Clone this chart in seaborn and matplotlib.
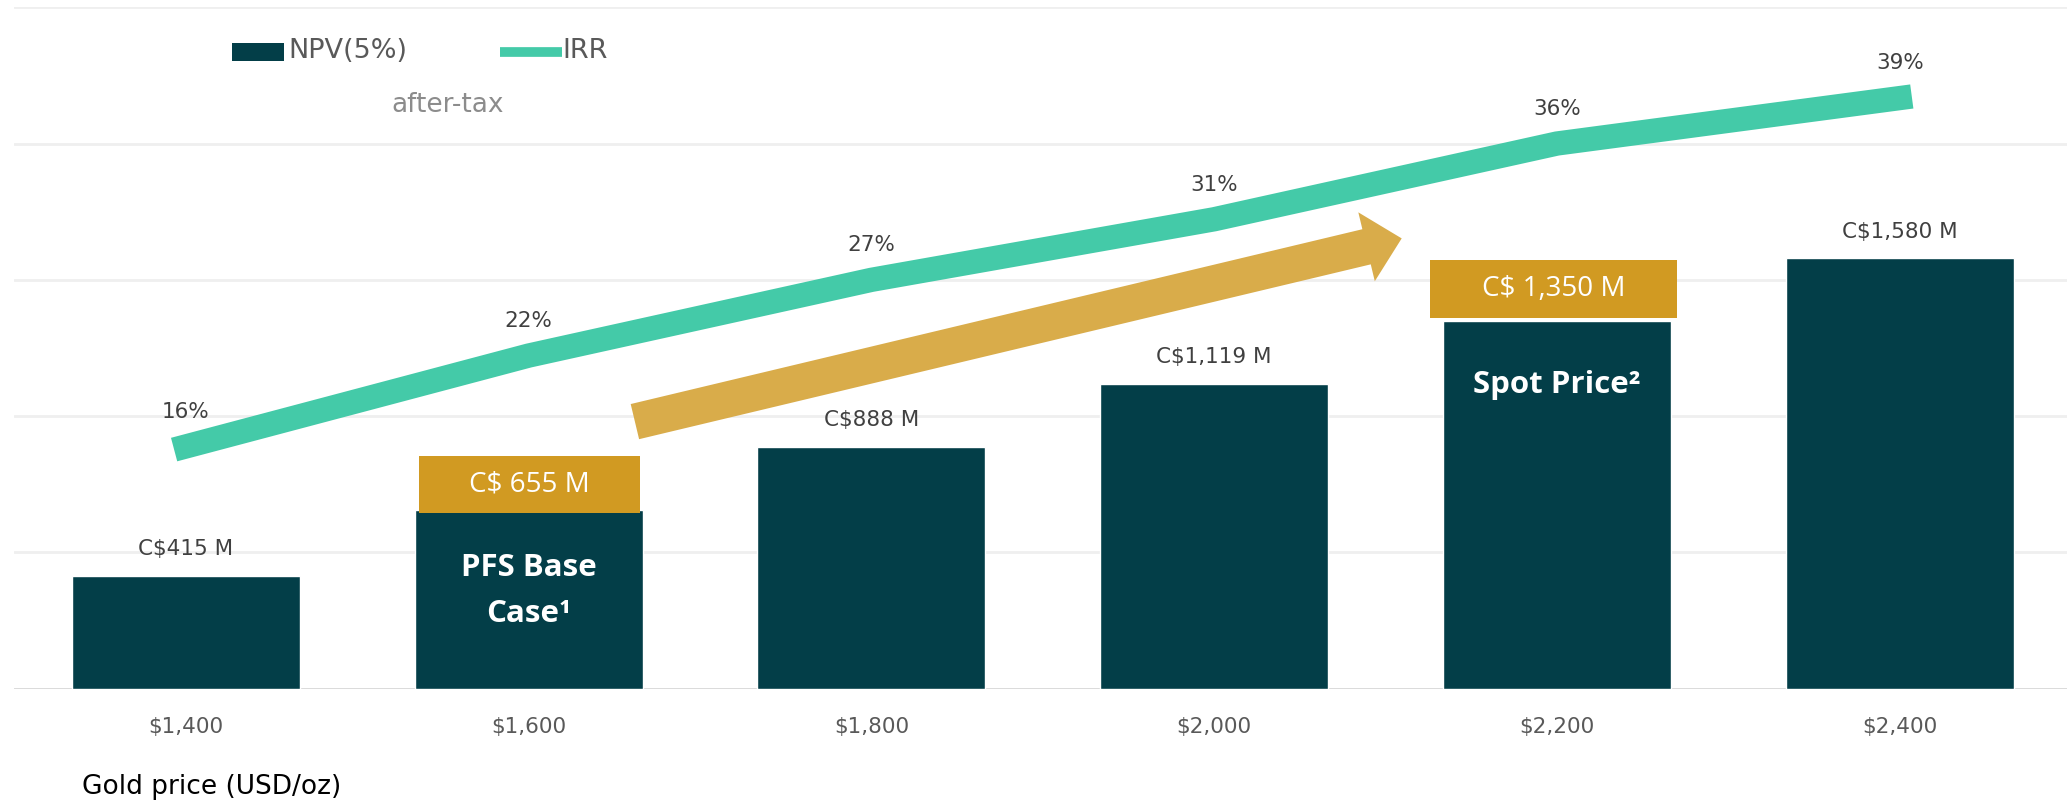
import matplotlib
matplotlib.use("Agg")
import matplotlib.pyplot as plt
import seaborn as sns
import numpy as np
import pandas as pd
from matplotlib.patches import FancyArrowPatch, Rectangle
from matplotlib.lines import Line2D

# ---- data ----
gold_prices = ["$1,400", "$1,600", "$1,800", "$2,000", "$2,200", "$2,400"]
npv_musd = [415, 655, 888, 1119, 1350, 1580]
irr_pct = [16, 22, 27, 31, 36, 39]
npv_labels = ["C$415 M", "", "C$888 M", "C$1,119 M", "", "C$1,580 M"]
irr_labels = ["16%", "22%", "27%", "31%", "36%", "39%"]
highlight_idx = [1, 4]
highlight_box_text = ["C$ 655 M", "C$ 1,350 M"]
highlight_bar_text = ["PFS Base\nCase\u00b9", "Spot Price\u00b2"]

BAR_C = "#033E48"
IRR_C = "#44CAA8"
BOX_C = "#D19A22"
ARROW_C = "#D9AC4A"
LABEL_C = "#404040"
TICK_C = "#595959"

sns.set_theme(style="white")
plt.rcParams["font.family"] = ["DejaVu Sans"]

df = pd.DataFrame({"price": gold_prices, "npv": npv_musd, "irr": irr_pct})

fig = plt.figure(figsize=(20.67, 8), dpi=100)
ax = fig.add_axes([0.007, 0.139, 0.995, 0.852])

sns.barplot(data=df, x="price", y="npv", color=BAR_C, saturation=1,
            width=0.665, ax=ax, zorder=2)
ax.set_xlim(-0.5, 5.5)
ax.set_ylim(0, 2500)
ax.set_yticks(np.arange(0, 2501, 500))
ax.set_yticklabels([])
ax.tick_params(axis="y", length=0)
ax.tick_params(axis="x", length=0, pad=20, labelsize=15.5, labelcolor=TICK_C)
ax.yaxis.grid(True, color="#EFEFEF", linewidth=2, zorder=0)
ax.set_axisbelow(True)
for s in ax.spines.values():
    s.set_visible(False)
ax.axhline(0, color="#D9D9D9", linewidth=2, zorder=1)
ax.set_xlabel("")
ax.set_ylabel("")

# bar value labels
for i, (v, lab) in enumerate(zip(npv_musd, npv_labels)):
    if lab:
        ax.annotate(lab, (i, v), xytext=(0, 19), textcoords="offset points",
                    ha="center", va="center", fontsize=15.5, color=LABEL_C)

# highlight boxes
box_spec = {1: dict(left=0.32, right=0.325, gap=-12, text_off=-58),
            4: dict(left=0.37, right=0.35, gap=10, text_off=-46)}
for i, bt, it in zip(highlight_idx, highlight_box_text, highlight_bar_text):
    sp = box_spec[i]
    v = npv_musd[i]
    bottom = v + sp["gap"]
    h = 212
    ax.add_patch(Rectangle((i - sp["left"], bottom), sp["left"] + sp["right"], h,
                           facecolor=BOX_C, edgecolor="none", zorder=4))
    ax.text(i + (sp["right"] - sp["left"]) / 2, bottom + h / 2, bt, ha="center",
            va="center", fontsize=20, color="white", zorder=5,
            family=["Open Sans", "DejaVu Sans"])
    ax.annotate(it, (i, v), xytext=(0, sp["text_off"]), textcoords="offset points",
                ha="center", va="center", fontsize=22.5, color="white",
                fontweight="bold", linespacing=1.7, zorder=5,
                family=["Open Sans", "DejaVu Sans"])

# arrow
arr = FancyArrowPatch((1.31, 980), (3.547, 1652),
                      arrowstyle="simple,tail_width=26,head_width=51,head_length=26",
                      mutation_scale=1, shrinkA=0, shrinkB=0,
                      facecolor=ARROW_C, edgecolor="none", zorder=3)
ax.add_patch(arr)

# IRR line
ax2 = ax.twinx()
sns.lineplot(x=np.arange(len(irr_pct)), y=irr_pct, ax=ax2, color=IRR_C,
             linewidth=17.5, solid_capstyle="projecting", zorder=3)
ax2.set_ylim(0, 45)
ax2.set_xlim(-0.5, 5.5)
ax2.set_yticks([])
ax2.set_ylabel("")
for s in ax2.spines.values():
    s.set_visible(False)
for i, (v, lab) in enumerate(zip(irr_pct, irr_labels)):
    ax2.annotate(lab, (i, v), xytext=(0, 25), textcoords="offset points",
                 ha="center", va="center", fontsize=15.5, color=LABEL_C)

# legend (manual)
fig.patches.append(Rectangle((232 / 2067, 1 - 61 / 800), 52 / 2067, 18 / 800,
                             transform=fig.transFigure, facecolor=BAR_C,
                             edgecolor="none"))
fig.lines.append(Line2D([500 / 2067, 562 / 2067], [1 - 52 / 800, 1 - 52 / 800],
                        transform=fig.transFigure, color=IRR_C, linewidth=7,
                        solid_capstyle="butt"))
fig.text(288 / 2067, 1 - 51 / 800, "NPV(5%)", ha="left", va="center",
         fontsize=19.5, color=TICK_C)
fig.text(562 / 2067, 1 - 51 / 800, "IRR", ha="left", va="center",
         fontsize=19.5, color=TICK_C)
fig.text(391 / 2067, 1 - 105 / 800, "after-tax", ha="left", va="center",
         fontsize=19, color="#8C8C8C")
fig.text(82 / 2067, 1 - 787 / 800, "Gold price (USD/oz)", ha="left",
         va="center", fontsize=19, color="black")

fig.savefig("out.png", dpi=100)
